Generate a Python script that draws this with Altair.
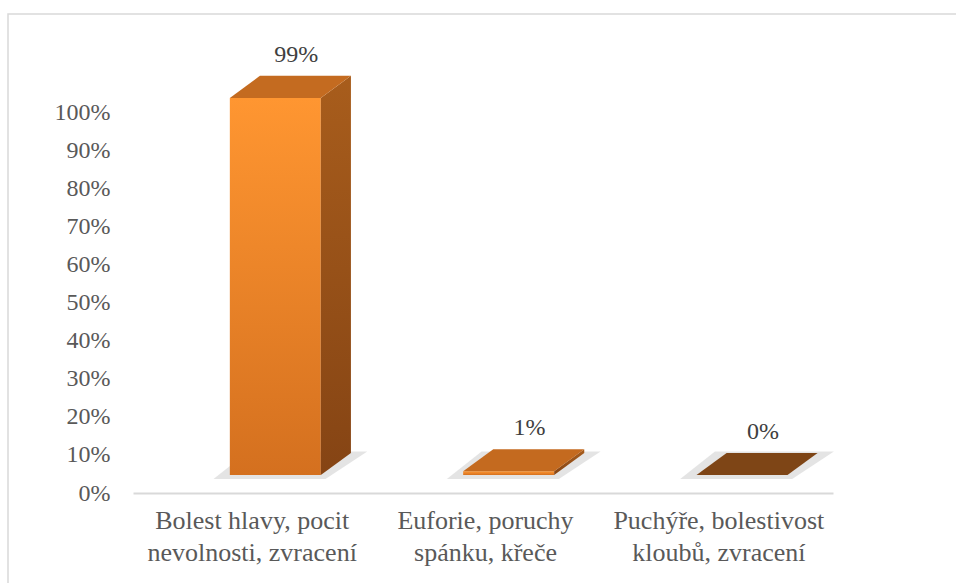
import altair as alt
import pandas as pd

# Survey answers: share of respondents per group of side effects
line1 = ["Bolest hlavy, pocit", "Euforie, poruchy", "Puchýře, bolestivost"]
line2 = ["nevolnosti, zvracení", "spánku, křeče", "kloubů, zvracení"]
values = [0.99, 0.01, 0.0]
value_labels = ["99%", "1%", "0%"]
y_ticks = [0.0, 0.1, 0.2, 0.3, 0.4, 0.5, 0.6, 0.7, 0.8, 0.9, 1.0]
top_colors = ["#C46B20", "#C46A1F", "#7E4516"]

# 3-D box geometry (in scale units)
LEFT = 0.415      # front face left edge inside the category slot
WIDTH = 0.39      # front face width
DX = 0.129        # depth shift to the right
FLOOR = 0.047     # front face lifted off the axis floor
DY = 0.058        # depth shift upwards

n = len(values)
front = pd.DataFrame({
    "x": [i + LEFT for i in range(n)],
    "x2": [i + LEFT + WIDTH for i in range(n)],
    "y": [FLOOR] * n,
    "y2": [FLOOR + v for v in values],
})

side_rows, top_rows, shadow_rows = [], [], []
for i, v in enumerate(values):
    r = i + LEFT + WIDTH
    side_rows += [
        {"bar": i, "x": r, "y": FLOOR, "y2": FLOOR + v},
        {"bar": i, "x": r + DX, "y": FLOOR + DY, "y2": FLOOR + DY + v},
    ]
    top_rows += [
        {"bar": i, "y": FLOOR + v, "x": i + LEFT, "x2": r, "c": top_colors[i]},
        {"bar": i, "y": FLOOR + v + DY, "x": i + LEFT + DX, "x2": r + DX, "c": top_colors[i]},
    ]
    shadow_rows += [
        {"bar": i, "y": FLOOR - 0.01, "x": i + LEFT - 0.07, "x2": r + 0.02},
        {"bar": i, "y": FLOOR + DY + 0.004, "x": i + LEFT + DX - 0.05, "x2": r + DX + 0.07},
    ]
side = pd.DataFrame(side_rows)
top = pd.DataFrame(top_rows)
shadow = pd.DataFrame(shadow_rows)

labels = pd.DataFrame({
    "x": [i + LEFT + WIDTH / 2 + DX / 2 + 0.025 for i in range(n)],
    "y": [FLOOR + v + DY for v in values],
    "t": value_labels,
})

FONT = "Liberation Serif"
GREY = "#595959"

xs = alt.Scale(domain=[0, n], nice=False, zero=False)
ys = alt.Scale(domain=[0, 1], nice=False)

label_array = "[" + ", ".join(
    "['%s', '%s']" % (a, b) for a, b in zip(line1, line2)
) + "]"

ax_x = alt.Axis(
    values=[i + 0.5 for i in range(n)],
    labelExpr=label_array + "[floor(datum.value)]",
    domainColor="#D9D9D9", domainWidth=2, ticks=False, grid=False,
    labelPadding=14, labelLineHeight=32, labelBaseline="top",
    labelFontSize=26, labelLimit=400, labelOffset=2,
)
ax_y = alt.Axis(
    values=y_ticks, format=".0%", domain=False, ticks=False, grid=False,
    labelPadding=23, labelFontSize=24,
)


def X(field="x"):
    return alt.X(f"{field}:Q", scale=xs, title=None, axis=ax_x)


def Y(field="y"):
    return alt.Y(f"{field}:Q", scale=ys, title=None, axis=ax_y)


shadow_layer = alt.Chart(shadow).mark_area(
    orient="horizontal", color="#A6A6A6", opacity=0.3
).encode(y=Y(), x=X(), x2="x2:Q", detail="bar:N")

front_layer = alt.Chart(front).mark_bar(
    color=alt.Gradient(
        gradient="linear",
        stops=[alt.GradientStop(color="#FF9631", offset=0),
               alt.GradientStop(color="#D4701F", offset=1)],
        x1=0, x2=0, y1=0, y2=1,
    )
).encode(x=X(), x2="x2:Q", y=Y(), y2="y2:Q")

side_layer = alt.Chart(side).mark_area(
    color=alt.Gradient(
        gradient="linear",
        stops=[alt.GradientStop(color="#A85D1C", offset=0),
               alt.GradientStop(color="#854414", offset=1)],
        x1=0, x2=0, y1=0, y2=1,
    )
).encode(x=X(), y=Y(), y2="y2:Q", detail="bar:N")

top_layer = alt.Chart(top).mark_area(orient="horizontal").encode(
    y=Y(), x=X(), x2="x2:Q", detail="bar:N",
    color=alt.Color("c:N", scale=None),
)

text_layer = alt.Chart(labels).mark_text(
    fontSize=24, color="#404040", baseline="middle", dy=-21
).encode(x=X(), y=Y(), text="t:N")

# outer chart frame, drawn relative to the plot area
frame = alt.Chart(pd.DataFrame({"k": [0]})).mark_rect(
    filled=False, stroke="#D9D9D9", strokeWidth=1.5
).encode(
    x=alt.value(-125), x2=alt.value(880), y=alt.value(-98), y2=alt.value(500)
)

chart = alt.layer(
    shadow_layer, front_layer, side_layer, top_layer, text_layer, frame
).properties(
    width=700, height=381,
    padding={"left": 133, "top": 112, "right": 123, "bottom": 90},
    autosize=alt.AutoSizeParams(type="none"),
    background="white",
).configure(
    font=FONT,
).configure_axis(
    labelFont=FONT, labelColor=GREY, labelOverlap=False, tickSize=0,
).configure_text(
    font=FONT,
).configure_view(stroke=None)

chart.save("out.html", embed_options={"renderer": "svg", "actions": False})
